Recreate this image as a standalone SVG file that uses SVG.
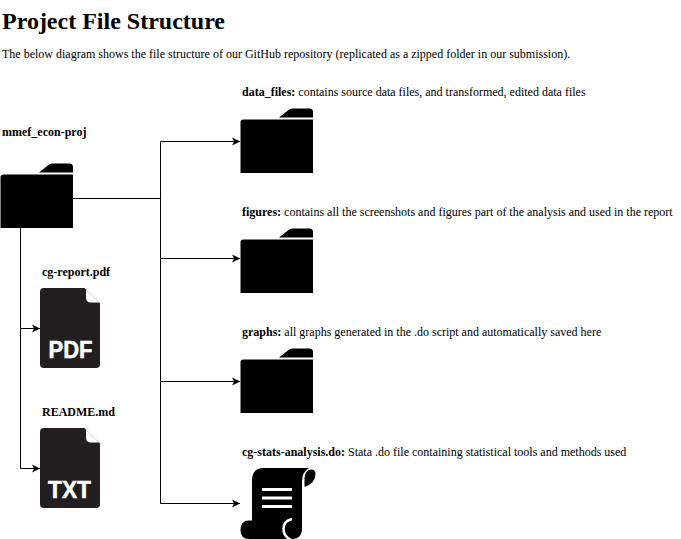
<svg xmlns="http://www.w3.org/2000/svg" width="681" height="539" viewBox="0 0 681 539">
<style>
text{font-family:"Liberation Serif","Times New Roman",serif;font-size:12px;fill:#000}
.b{font-weight:bold}
.h{font-size:24px;font-weight:bold}
.c{fill:none;stroke:#000;stroke-width:1}
.ico{fill:#000}
.doc{fill:#231f20}
.ear{fill:#fff}
.lab{font-family:"Liberation Sans",Arial,sans-serif;font-weight:bold;font-size:23px;fill:#fff;stroke:#fff;stroke-width:.5}
.curl{fill:none;stroke:#fff;stroke-width:2.500}
.line{fill:#fff}
</style>
<defs>
<marker id="arr" markerUnits="userSpaceOnUse" markerWidth="9" markerHeight="9" refX="8" refY="4.5" orient="auto">
<path d="M0 0.5L8 4.5L0 8.500L2 4.5Z" fill="#000"/>
</marker>
<g id="folder">
<path class="ico" d="M0 13.5Q0 11 3 11H72.5V64.5H0Z"/>
<path class="ico" d="M38.5 9L48 1.5Q49.5 0 51.5 0H69Q72.5 0 72.5 3.5V9Z"/>
</g>
<g id="file">
<path class="doc" d="M44.5 0H4Q0 0 0 4V76Q0 80 4 80H56Q60 80 60 76V15.5Z"/>
<path class="ear" d="M46 1.5L59 14.500H51Q46 14.500 46 9.500Z"/>
</g>
</defs>
<text class="h" x="2" y="29">Project File Structure</text>
<text x="2" y="58">The below diagram shows the file structure of our GitHub repository (replicated as a zipped folder in our submission).</text>
<g id="connectors">
<path class="c" d="M73 198.500H160.500"/>
<path class="c" d="M160.500 198.500V141.500H240" marker-end="url(#arr)"/>
<path class="c" d="M160.500 198.500V258.500H240" marker-end="url(#arr)"/>
<path class="c" d="M160.500 258.500V381.500H240" marker-end="url(#arr)"/>
<path class="c" d="M160.500 381.500V503.500H240" marker-end="url(#arr)"/>
<path class="c" d="M20.500 228V328.500H40" marker-end="url(#arr)"/>
<path class="c" d="M20.500 328.500V468.500H40" marker-end="url(#arr)"/>
</g>
<g id="node-root">
<text class="b" x="2" y="136">mmef_econ-proj</text>
<use href="#folder" x="0.500" y="163.500"/>
</g>
<g id="node-report">
<text class="b" x="42" y="276">cg-report.pdf</text>
<use href="#file" x="40" y="288"/>
<text class="lab" x="70.500" y="358" text-anchor="middle" textLength="44" lengthAdjust="spacingAndGlyphs">PDF</text>
</g>
<g id="node-readme">
<text class="b" x="42" y="416">README.md</text>
<use href="#file" x="40" y="428"/>
<text class="lab" x="69.500" y="498" text-anchor="middle" textLength="43" lengthAdjust="spacingAndGlyphs">TXT</text>
</g>
<g id="node-data">
<text x="242" y="96"><tspan class="b">data_files:</tspan> contains source data files, and transformed, edited data files</text>
<use href="#folder" x="240.500" y="108.500"/>
</g>
<g id="node-figures">
<text x="242" y="216"><tspan class="b">figures:</tspan> contains all the screenshots and figures part of the analysis and used in the report</text>
<use href="#folder" x="240.500" y="228.500"/>
</g>
<g id="node-graphs">
<text x="242" y="336"><tspan class="b">graphs:</tspan> all graphs generated in the .do script and automatically saved here</text>
<use href="#folder" x="240.500" y="348.500"/>
</g>
<g id="node-stats">
<text x="242" y="456"><tspan class="b">cg-stats-analysis.do:</tspan> Stata .do file containing statistical tools and methods used</text>
<path class="ico" d="M252 480Q252 468 264 468H309Q302 472 302 482V528Q302 539 292 539H289L280 521H252Z"/>
<path class="ico" d="M249 520.500H288V539H249Q240.500 539 240.500 530Q240.500 520.500 249 520.500Z"/>
<path class="ico" d="M311 469.500Q315.500 469.500 315.500 474Q315.500 483 304.500 487V478Q305 470 311 469.500Z"/>
<path class="curl" d="M292 519Q283.500 521 283.500 529Q283.500 536 291 540"/>
<rect class="line" x="262" y="488" width="30" height="3"/>
<rect class="line" x="262" y="496.500" width="30" height="3"/>
<rect class="line" x="262" y="505" width="30" height="3"/>
</g>
</svg>
